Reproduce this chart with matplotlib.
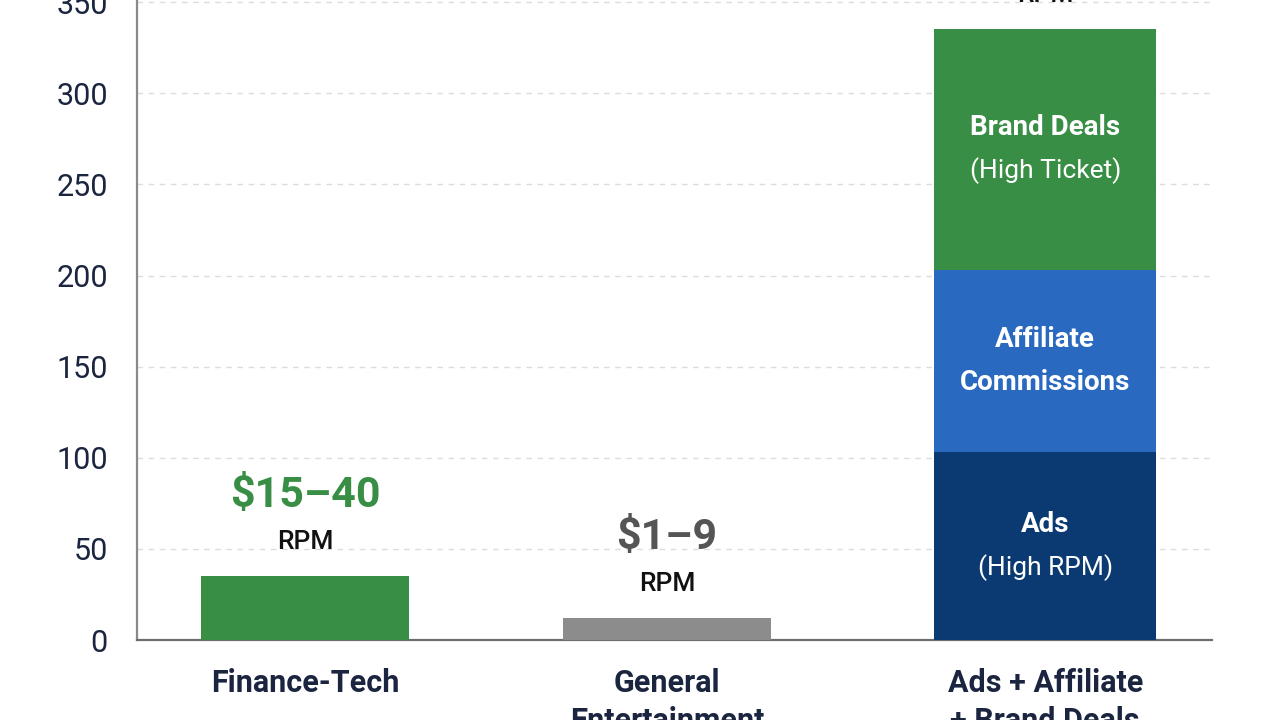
import matplotlib
matplotlib.use("Agg")
import matplotlib.pyplot as plt

# ---- data ----
categories = ["Finance-Tech", "General\nEntertainment", "Ads + Affiliate\n+ Brand Deals"]
simple_values = [35, 12]                 # single bars (RPM scale)
stack_labels = ["Ads", "Affiliate", "Brand Deals"]
stack_values = [103, 100, 132]           # stacked segments of the third bar
stack_line1 = ["Ads", "Affiliate", "Brand Deals"]
stack_line2 = ["(High RPM)", "Commissions", "(High Ticket)"]
stack_line2_bold = [False, True, False]
range_labels = ["$15\u201340", "$1\u20139"]
y_ticks = [0, 50, 100, 150, 200, 250, 300, 350]

# ---- style ----
plt.rcParams['font.family'] = ['Roboto', 'DejaVu Sans']
green = "#388e45"
gray = "#8c8c8c"
blue = "#2a69c0"
navy = "#0b3a72"
text_navy = "#1b2540"

fig = plt.figure(figsize=(12.8, 7.2), dpi=100)
ax = fig.add_axes([0.107, 0.111, 0.840, 0.962])

x = [0, 0.978, 2]
ax.bar(x[0], simple_values[0], width=0.56, color=green, zorder=3)
ax.bar(x[1], simple_values[1], width=0.56, color=gray, zorder=3)

stack_colors = [navy, blue, green]
bottom = 0
for v, c, l1, l2, b2 in zip(stack_values, stack_colors, stack_line1, stack_line2, stack_line2_bold):
    ax.bar(x[2], v, width=0.60, bottom=bottom, color=c, zorder=3)
    mid = bottom + v / 2
    ax.text(x[2], mid + 12.0, l1, ha='center', va='center', color='white',
            fontsize=20, fontweight='bold', zorder=4)
    ax.text(x[2], mid - 11.5, l2, ha='center', va='center', color='white',
            fontsize=20 if b2 else 19, fontweight='bold' if b2 else 'normal', zorder=4)
    bottom += v

# range labels above simple bars
range_colors = [green, "#555555"]
for xi, v, lab, col in zip(x[:2], simple_values, range_labels, range_colors):
    ax.text(xi, v + 44.5, lab, ha='center', va='center', color=col,
            fontsize=31, fontweight='bold', zorder=4)
    ax.text(xi, v + 19, "RPM", ha='center', va='center', color='#111111',
            fontsize=19, fontweight='medium', zorder=4)
ax.text(x[2], bottom + 19, "RPM", ha='center', va='center', color='#111111',
        fontsize=19, fontweight='medium', zorder=4)

ax.set_xlim(-0.454, 2.451)
ax.set_ylim(0, 380)
ax.set_yticks(y_ticks)
ax.set_yticklabels([str(t) for t in y_ticks], fontsize=22, color=text_navy)
ax.set_xticks(x)
ax.set_xticklabels(categories, fontsize=22, fontweight='bold', color=text_navy,
                   linespacing=1.35)
ax.tick_params(axis='both', length=0)
ax.tick_params(axis='x', pad=20)
ax.tick_params(axis='y', pad=21)

ax.yaxis.grid(True, linestyle=(0, (4, 4)), color='#dcdcdc', linewidth=1.0, zorder=0)
ax.set_axisbelow(True)
for s in ['top', 'right']:
    ax.spines[s].set_visible(False)
ax.spines['left'].set_color('#8a8a8a')
ax.spines['left'].set_linewidth(1.6)
ax.spines['bottom'].set_color('#6e6e6e')
ax.spines['bottom'].set_linewidth(1.6)

fig.savefig("out.png", dpi=100)
